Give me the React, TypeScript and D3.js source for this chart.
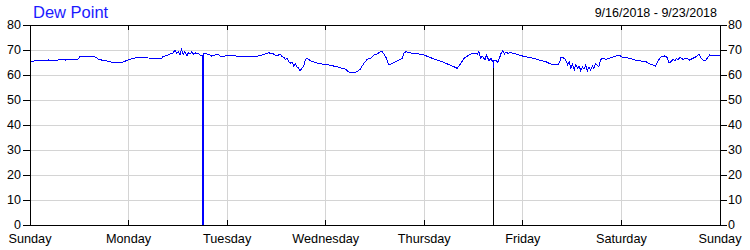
import React from "react";
import * as d3 from "d3";

// Hours since Sunday 9/16/2018 00:00, dew point (°F)
const hours: number[] = [
  0, 0.3, 1.2, 1.7, 4.3, 4.4, 4.5, 6.8, 7.1, 8.6, 8.7, 8.8, 11.7, 12.1, 12.5, 14.9, 15.3, 16.1, 16.6, 17.4,
  18.5, 19.4, 20.6, 21.9, 22.6, 23.4, 24.3, 25.3, 26.7, 28.0, 28.7, 32.1, 32.2, 32.9, 33.7, 34.1, 34.9, 35.3, 35.7, 36.1,
  36.5, 36.9, 37.3, 37.7, 38.2, 38.5, 39.0, 39.4, 39.8, 40.2, 40.6, 41.0, 41.4, 41.9, 41.9, 42.15, 42.15, 43.0, 43.8, 44.2,
  45.0, 45.9, 46.3, 47.5, 48.3, 49.1, 49.9, 50.7, 51.5, 52.3, 55.5, 56.5, 57.3, 58.1, 58.7, 59.3, 60.1, 60.9, 61.4, 61.8,
  62.2, 62.6, 63.0, 63.4, 63.8, 64.2, 64.6, 65.0, 65.4, 65.8, 66.2, 66.6, 67.0, 67.3, 67.8, 68.3, 69.5, 71.1, 72.7, 73.9,
  75.2, 76.8, 77.6, 78.8, 79.6, 80.4, 81.2, 82.1, 82.9, 83.7, 84.5, 85.3, 85.8, 86.6, 87.4, 88.2, 89.0, 89.8, 90.6, 91.1,
  91.5, 93.1, 94.7, 95.9, 97.9, 100.4, 102.8, 104.0, 104.9, 105.7, 106.5, 107.7, 108.9, 109.3, 109.7, 110.1, 110.8, 111.1, 111.8, 112.2,
  112.8, 112.8, 112.8, 113.5, 113.9, 114.3, 114.7, 115.1, 115.5, 115.9, 116.3, 117.1, 118.3, 119.9, 120.7, 122.4, 124.0, 125.6, 126.8, 128.5,
  128.9, 129.3, 130.1, 130.5, 130.9, 131.3, 131.7, 132.1, 132.5, 132.9, 133.3, 133.7, 134.1, 134.5, 134.9, 135.3, 135.7, 136.1, 136.5, 136.9,
  137.3, 137.7, 138.5, 138.9, 139.3, 140.2, 141.0, 141.8, 142.6, 143.4, 144.3, 146.0, 147.2, 148.4, 150.0, 150.9, 151.7, 152.3, 152.9, 153.7,
  154.5, 155.1, 155.6, 156.1, 156.6, 157.0, 157.4, 157.8, 158.2, 159.0, 159.8, 160.6, 161.4, 162.2, 162.9, 163.4, 164.0, 164.6, 165.5, 166.0,
  166.7, 167.5, 168,
];
const dewPoint: number[] = [
  64.9, 65.3, 65.7, 65.9, 65.9, 66.1, 65.9, 65.9, 66.3, 66.3, 65.9, 66.3, 66.3, 67.3, 67.6, 67.6, 67.3, 67.1, 66.4, 66.0,
  65.7, 65.3, 64.9, 64.9, 65.2, 65.7, 66.3, 66.7, 67.1, 67.1, 66.8, 66.7, 67.3, 67.6, 68.0, 68.4, 68.9, 70.0, 68.7, 69.3,
  68.0, 70.3, 68.0, 69.3, 67.6, 68.9, 68.4, 69.3, 68.4, 68.9, 68.4, 68.7, 68.0, 68.0, 0, 0, 68.7, 68.4, 68.0, 67.6,
  68.0, 68.1, 67.6, 67.6, 68.0, 67.6, 67.8, 67.3, 67.6, 67.6, 67.6, 68.0, 68.4, 68.9, 68.6, 68.4, 67.6, 68.4, 67.3, 67.1,
  66.3, 66.7, 65.3, 64.7, 65.3, 63.6, 64.4, 63.3, 62.7, 61.7, 62.7, 63.3, 66.0, 66.7, 66.3, 65.7, 64.9, 64.4, 64.0, 63.6,
  63.1, 62.3, 61.2, 60.9, 61.3, 62.3, 64.4, 66.3, 66.7, 68.0, 68.4, 69.3, 69.3, 67.3, 64.0, 64.7, 65.3, 66.0, 66.7, 68.9,
  69.3, 68.7, 68.4, 68.0, 66.7, 65.3, 63.6, 62.7, 64.7, 66.7, 67.6, 68.7, 68.4, 69.3, 66.7, 67.6, 66.0, 68.0, 65.7, 66.7,
  64.9, 0, 66.0, 66.0, 64.9, 66.7, 68.7, 69.7, 68.4, 69.3, 68.7, 68.9, 68.4, 67.6, 67.3, 66.7, 66.0, 65.3, 64.4, 64.0,
  64.9, 67.1, 66.7, 65.7, 64.0, 65.3, 62.7, 64.4, 62.0, 64.1, 62.7, 63.6, 61.7, 63.3, 62.3, 64.0, 61.7, 63.1, 62.0, 63.6,
  62.7, 64.4, 63.3, 66.0, 66.7, 66.3, 66.7, 67.1, 67.6, 68.0, 67.1, 66.7, 66.0, 65.7, 65.3, 64.4, 64.0, 63.6, 65.7, 67.3,
  67.6, 67.1, 64.9, 65.3, 66.3, 65.7, 66.7, 66.0, 67.1, 66.3, 66.7, 66.0, 66.7, 67.3, 68.4, 66.7, 65.7, 66.0, 68.0, 67.6,
  68.0, 67.6, 67.8,
];
// Hours where the logger marks a data gap (black marker line)
const gapMarkHours: number[] = [112.8];
const gapMarkTop = 63;

const dayLabels: string[] = ["Sunday", "Monday", "Tuesday", "Wednesday", "Thursday", "Friday", "Saturday", "Sunday"];
const yTicks: number[] = [0, 10, 20, 30, 40, 50, 60, 70, 80];
const title = "Dew Point";
const dateRange = "9/16/2018 - 9/23/2018";

const W = 750, H = 250;
const L = 30, R = 720, T = 25, B = 225;

export default function App() {
  const x = d3.scaleLinear().domain([0, 168]).range([L, R]);
  const y = d3.scaleLinear().domain([0, 80]).range([B, T]);
  const data = hours.map((h, i) => [h, dewPoint[i]] as [number, number]);
  const line = d3.line<[number, number]>().x((d) => x(d[0])).y((d) => y(d[1]));
  const dayHours = dayLabels.map((_, i) => i * 24);
  const font = "Arial, 'Liberation Sans', sans-serif";

  return (
    <svg width={W} height={H} style={{ position: "absolute", left: 0, top: 0, background: "#fff" }} fontFamily={font}>
      <rect x={0} y={0} width={W} height={H} fill="#fff" />
      {/* grid */}
      <g stroke="#d4d4d4" strokeWidth={1} shapeRendering="crispEdges">
        {yTicks.map((t) => (
          <line key={"gy" + t} x1={L} x2={R} y1={y(t)} y2={y(t)} />
        ))}
        {dayHours.map((h) => (
          <line key={"gx" + h} x1={x(h)} x2={x(h)} y1={T} y2={B} />
        ))}
      </g>
      {/* data line */}
      <path d={line(data) || ""} fill="none" stroke="#0000ff" strokeWidth={1} shapeRendering="crispEdges" />
      <g stroke="#000" strokeWidth={1} shapeRendering="crispEdges">
        {gapMarkHours.map((h) => (
          <line key={"gm" + h} x1={x(h)} x2={x(h)} y1={y(0)} y2={y(gapMarkTop)} />
        ))}
      </g>
      {/* frame */}
      <g stroke="#000" strokeWidth={1} shapeRendering="crispEdges" fill="none">
        <line x1={L} x2={R} y1={T} y2={T} />
        <line x1={L} x2={R} y1={B} y2={B} />
        <line x1={L} x2={L} y1={T} y2={B} />
        <line x1={R} x2={R} y1={T} y2={B} />
        {yTicks.map((t) => (
          <g key={"ty" + t}>
            <line x1={L - 7} x2={L} y1={y(t)} y2={y(t)} />
            <line x1={R} x2={R + 7} y1={y(t)} y2={y(t)} />
          </g>
        ))}
        {dayHours.map((h) => (
          <g key={"tx" + h}>
            <line x1={x(h)} x2={x(h)} y1={B} y2={B - 5} />
            <line x1={x(h)} x2={x(h)} y1={T} y2={T + 5} />
          </g>
        ))}
      </g>
      {/* y labels */}
      <g fontSize={12.5} fill="#000">
        {yTicks.map((t) => (
          <text key={"ly" + t} x={L - 9} y={y(t)} dy="0.35em" textAnchor="end">{t}</text>
        ))}
        {yTicks.map((t) => (
          <text key={"ry" + t} x={R + 8} y={y(t)} dy="0.35em" textAnchor="start">{t}</text>
        ))}
      </g>
      {/* x labels */}
      <g fontSize={12.7} fill="#000">
        {dayLabels.map((d, i) => (
          <text key={"lx" + i} x={x(dayHours[i])} y={243} textAnchor="middle">{d}</text>
        ))}
      </g>
      <text x={33} y={18} fontSize={16.5} fill="#1a1aff">{title}</text>
      <text x={717} y={17} fontSize={12.5} fill="#000" textAnchor="end">{dateRange}</text>
    </svg>
  );
}
